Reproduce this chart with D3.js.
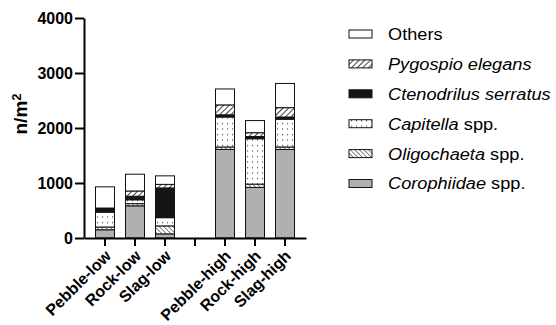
<!DOCTYPE html>
<html>
<head>
<meta charset="utf-8">
<script src="https://cdn.jsdelivr.net/npm/d3@7"></script>
<style>
  body { margin: 0; background: #fff; }
  text { font-family: "Liberation Sans", Arial, Helvetica, sans-serif; }
</style>
</head>
<body>
<div id="viz"></div>
<script>
// groups that have bars, and the axis slots (one empty slot between low and high)
const groups = ["Pebble-low", "Rock-low", "Slag-low", "Pebble-high", "Rock-high", "Slag-high"];
const slots = ["Pebble-low", "Rock-low", "Slag-low", "", "Pebble-high", "Rock-high", "Slag-high"];

// densities per taxon (n/m2), stacked bottom to top
const corophiidae = [150, 585, 75, 1610, 920, 1610];
const oligochaeta = [50, 40, 145, 45, 60, 45];
const capitella   = [270, 70, 150, 545, 825, 505];
const ctenodrilus = [60, 65, 540, 40, 40, 40];
const pygospio    = [15, 95, 65, 180, 70, 170];
const others      = [385, 305, 155, 290, 220, 440];

const yTicks = [0, 1000, 2000, 3000, 4000];

const keys = ["corophiidae", "oligochaeta", "capitella", "ctenodrilus", "pygospio", "others"];
const legendLabels = {
  others: [["Others", false]],
  pygospio: [["Pygospio elegans", true]],
  ctenodrilus: [["Ctenodrilus serratus", true]],
  capitella: [["Capitella", true], [" spp.", false]],
  oligochaeta: [["Oligochaeta", true], [" spp.", false]],
  corophiidae: [["Corophiidae", true], [" spp.", false]]
};

const svg = d3.select("#viz").append("svg")
  .attr("width", 556)
  .attr("height", 325);

// fill patterns
const defs = svg.append("defs");

function hatch(id, angle, gap, sw) {
  const p = defs.append("pattern")
    .attr("id", id)
    .attr("patternUnits", "userSpaceOnUse")
    .attr("width", gap).attr("height", gap)
    .attr("patternTransform", `rotate(${angle})`);
  p.append("rect").attr("width", gap).attr("height", gap).attr("fill", "#fff");
  p.append("line").attr("x1", 0).attr("y1", 0).attr("x2", 0).attr("y2", gap)
    .attr("stroke", "#111").attr("stroke-width", sw);
}
hatch("hatchPyg", 45, 4, 1.6);
hatch("hatchOlig", -45, 3.2, 1);

const dots = defs.append("pattern")
  .attr("id", "dots")
  .attr("patternUnits", "userSpaceOnUse")
  .attr("width", 5).attr("height", 5.5);
dots.append("rect").attr("width", 5).attr("height", 5.5).attr("fill", "#fff");
dots.append("rect").attr("x", 2).attr("y", 2).attr("width", 1.1).attr("height", 1.1).attr("fill", "#333");

const fills = {
  corophiidae: "#b0b0b0",
  oligochaeta: "url(#hatchOlig)",
  capitella: "url(#dots)",
  ctenodrilus: "#151515",
  pygospio: "url(#hatchPyg)",
  others: "#fff"
};

const x = d3.scaleBand()
  .domain(slots)
  .range([84, 306])
  .paddingInner(0.367)
  .paddingOuter(0.383);

const y = d3.scaleLinear()
  .domain([0, 4000])
  .range([238, 18]);

const rows = groups.map((g, i) => ({
  group: g,
  corophiidae: corophiidae[i],
  oligochaeta: oligochaeta[i],
  capitella: capitella[i],
  ctenodrilus: ctenodrilus[i],
  pygospio: pygospio[i],
  others: others[i]
}));

const series = d3.stack().keys(keys)(rows);

svg.append("g")
  .selectAll("g")
  .data(series)
  .enter()
  .append("g")
  .attr("fill", d => fills[d.key])
  .selectAll("rect")
  .data(d => d)
  .enter()
  .append("rect")
  .attr("x", d => x(d.data.group))
  .attr("y", d => y(d[1]))
  .attr("width", x.bandwidth())
  .attr("height", d => y(d[0]) - y(d[1]))
  .attr("stroke", "#111")
  .attr("stroke-width", 1);

// axes
const yAxis = svg.append("g")
  .attr("transform", "translate(84,0)")
  .call(d3.axisLeft(y).tickValues(yTicks).tickFormat(d3.format("d"))
    .tickSize(9).tickSizeOuter(0).tickPadding(2));

const xAxis = svg.append("g")
  .attr("transform", "translate(0,238)")
  .call(d3.axisBottom(x).tickSize(8).tickSizeOuter(0));

[yAxis, xAxis].forEach(a => {
  a.select(".domain").attr("stroke", "#000").attr("stroke-width", 2);
  a.selectAll(".tick line").attr("stroke", "#000").attr("stroke-width", 2);
  a.selectAll("text")
    .attr("fill", "#000")
    .style("font-size", "16px")
    .style("font-weight", "bold")
    .style("font-family", "'Liberation Sans', Arial, Helvetica, sans-serif");
});

xAxis.selectAll(".tick text")
  .style("font-size", "16px")
  .attr("text-anchor", "end")
  .attr("dy", "0.35em")
  .attr("y", 0)
  .attr("x", 0)
  .attr("transform", "translate(3,15) rotate(-45)");

// y title
const yTitle = svg.append("text")
  .attr("transform", "translate(27,114) rotate(-90)")
  .attr("text-anchor", "middle")
  .style("font-size", "19px")
  .style("font-weight", "bold");
yTitle.append("tspan").text("n/m");
yTitle.append("tspan").attr("dy", "-0.5em").style("font-size", "13px").text("2");

// legend
const legend = svg.append("g")
  .selectAll("g")
  .data(keys.slice().reverse())
  .enter()
  .append("g")
  .attr("transform", (d, i) => `translate(349,${34 + i * 29.9})`);

legend.append("rect")
  .attr("x", 0)
  .attr("y", -4)
  .attr("width", 23)
  .attr("height", 8)
  .attr("fill", d => fills[d])
  .attr("stroke", "#111")
  .attr("stroke-width", 1);

legend.append("text")
  .attr("transform", "translate(39,0) scale(1.07,1)")
  .attr("dy", "0.35em")
  .style("font-size", "17px")
  .selectAll("tspan")
  .data(d => legendLabels[d])
  .enter()
  .append("tspan")
  .style("font-style", d => d[1] ? "italic" : "normal")
  .text(d => d[0]);
</script>
</body>
</html>
